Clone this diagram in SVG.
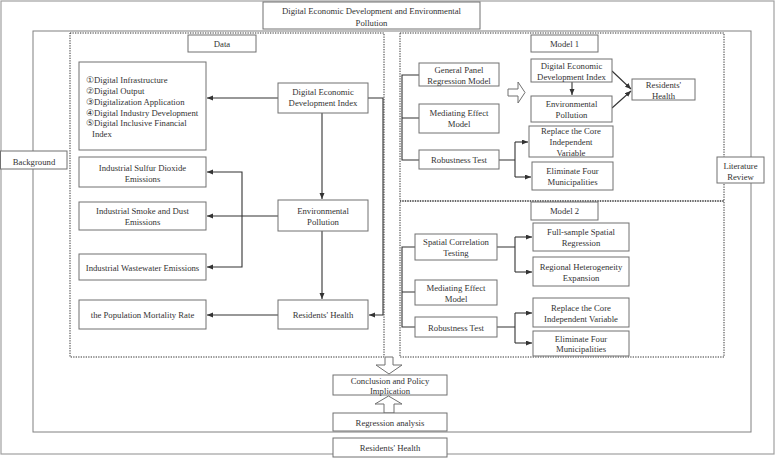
<svg xmlns="http://www.w3.org/2000/svg" width="777" height="458" viewBox="0 0 777 458">
<defs>
<marker id="ah" markerWidth="7" markerHeight="6" refX="6" refY="2.5" orient="auto" markerUnits="userSpaceOnUse">
<path d="M0,0 L6,2.5 L0,5 z" fill="#333"/>
</marker>
</defs>
<style>
text{font-family:"Liberation Serif","DejaVu Serif",serif;font-size:8.7px;fill:#333;text-anchor:middle}
.lt{text-anchor:start}
.box{fill:#fff;stroke:#707070;stroke-width:1}
.dot{fill:none;stroke:#333;stroke-width:1;stroke-dasharray:1.3 1.2}
.frame{fill:none;stroke:#808080;stroke-width:1}
.c{fill:none;stroke:#333;stroke-width:1.1}
.ca{fill:none;stroke:#333;stroke-width:1.1;marker-end:url(#ah)}
.hol{fill:#fff;stroke:#707070;stroke-width:1}
</style>
<rect width="777" height="458" fill="#fff"/>
<rect x="1" y="1" width="773" height="453" fill="none" stroke="#a0a0a0" stroke-width="1.2"/>
<rect class="frame" x="33" y="31" width="718" height="401"/>
<rect class="dot" x="70" y="33" width="314" height="324"/>
<rect class="dot" x="400" y="33" width="324" height="168"/>
<rect class="dot" x="400" y="201" width="324" height="156"/>

<g id="connectors">
<path class="ca" d="M278,98 H207"/>
<path class="ca" d="M368,98 H383 V315 H369"/>
<path class="ca" d="M322,113 V199"/>
<path class="ca" d="M278,216 H207"/>
<path class="ca" d="M242,216 V172 H207"/>
<path class="ca" d="M242,216 V267 H207"/>
<path class="ca" d="M322,231 V299"/>
<path class="ca" d="M278,315 H207"/>
<path class="c" d="M419,75 H402 V160 H419 M402,118 H419"/>
<path class="ca" d="M572,82 V95"/>
<path class="ca" d="M612,71 L631,89"/>
<path class="ca" d="M612,108 L631,91"/>
<path class="c" d="M499,160 H515 M515,142 V177"/>
<path class="ca" d="M515,142 H528"/>
<path class="ca" d="M515,177 H531"/>
<path class="c" d="M415,247 H402 V327 H415 M402,292 H415"/>
<path class="c" d="M497,247 H515 M515,237 V272"/>
<path class="ca" d="M515,237 H532"/>
<path class="ca" d="M515,272 H532"/>
<path class="c" d="M497,327 H515 M515,313 V343"/>
<path class="ca" d="M515,313 H532"/>
<path class="ca" d="M515,343 H532"/>
<path class="hol" d="M385,357 H393 V365 H402 L389,374 L376,365 H385 Z"/>
<path class="hol" d="M384,413 V404 H375 L388.5,396 L402,404 H394 V413 Z"/>
<path class="hol" d="M508,89 H518 V82 L525,92.5 L518,103 V96 H508 Z"/>
</g>

<g id="title"><rect class="box" x="263" y="2" width="217" height="27"/>
<text x="371.5" y="14">Digital Economic Development and Environmental</text><text x="371.5" y="25.5">Pollution</text></g>
<g id="background"><rect class="box" x="0.5" y="151" width="66.5" height="18"/><text x="34" y="165">Background</text></g>
<g id="literature"><rect class="box" x="717" y="157" width="47" height="26"/><text x="740.5" y="169">Literature</text><text x="740.5" y="180">Review</text></g>

<g id="data-label"><rect class="box" x="188" y="35" width="68" height="17"/><text x="222" y="47">Data</text></g>
<g id="indicators"><rect class="box" x="79" y="62" width="127" height="88"/>
<text class="lt" x="86" y="83.3">①Digital Infrastructure</text>
<text class="lt" x="86" y="94">②Digital Output</text>
<text class="lt" x="86" y="104.8">③Digitalization Application</text>
<text class="lt" x="86" y="115.6">④Digital Industry Development</text>
<text class="lt" x="86" y="126.4">⑤Digital Inclusive Financial</text>
<text class="lt" x="92" y="137.2">Index</text></g>
<g id="dedi"><rect class="box" x="278" y="83" width="90" height="30"/><text x="323" y="95">Digital Economic</text><text x="323" y="106">Development Index</text></g>
<g id="sulfur"><rect class="box" x="79" y="157" width="127" height="30"/><text x="142.5" y="171">Industrial Sulfur Dioxide</text><text x="142.5" y="182">Emissions</text></g>
<g id="smoke"><rect class="box" x="79" y="202" width="127" height="28"/><text x="142.5" y="214">Industrial Smoke and Dust</text><text x="142.5" y="225">Emissions</text></g>
<g id="envpol"><rect class="box" x="278" y="200" width="90" height="31"/><text x="323" y="214">Environmental</text><text x="323" y="225">Pollution</text></g>
<g id="wastewater"><rect class="box" x="79" y="254" width="127" height="26"/><text x="142.5" y="271">Industrial Wastewater Emissions</text></g>
<g id="mortality"><rect class="box" x="79" y="300" width="127" height="29"/><text x="142.5" y="318">the Population Mortality Rate</text></g>
<g id="health"><rect class="box" x="278" y="300" width="90" height="29"/><text x="323" y="318">Residents' Health</text></g>

<g id="model1-label"><rect class="box" x="531" y="35" width="67" height="17"/><text x="564.5" y="47">Model 1</text></g>
<g id="m1-panel"><rect class="box" x="419" y="63" width="80" height="23"/><text x="459" y="73">General Panel</text><text x="459" y="84">Regression Model</text></g>
<g id="m1-dedi"><rect class="box" x="531" y="59" width="81" height="23"/><text x="571.5" y="69">Digital Economic</text><text x="571.5" y="80">Development Index</text></g>
<g id="m1-env"><rect class="box" x="531" y="96" width="81" height="26"/><text x="571.5" y="107">Environmental</text><text x="571.5" y="118">Pollution</text></g>
<g id="m1-health"><rect class="box" x="632" y="79" width="63" height="21"/><text x="663.5" y="88">Residents'</text><text x="663.5" y="99">Health</text></g>
<g id="m1-mediating"><rect class="box" x="419" y="104" width="80" height="29"/><text x="459" y="116">Mediating Effect</text><text x="459" y="127">Model</text></g>
<g id="m1-robust"><rect class="box" x="419" y="150" width="80" height="19"/><text x="459" y="163">Robustness Test</text></g>
<g id="m1-replace"><rect class="box" x="529" y="126" width="84" height="31"/><text x="571" y="134">Replace the Core</text><text x="571" y="145">Independent</text><text x="571" y="156">Variable</text></g>
<g id="m1-eliminate"><rect class="box" x="532" y="162" width="81" height="28"/><text x="572.5" y="174">Eliminate Four</text><text x="572.5" y="185">Municipalities</text></g>

<g id="model2-label"><rect class="box" x="531" y="202" width="67" height="18"/><text x="564.5" y="214">Model 2</text></g>
<g id="m2-spatial"><rect class="box" x="415" y="234" width="82" height="26"/><text x="456" y="245">Spatial Correlation</text><text x="456" y="256">Testing</text></g>
<g id="m2-full"><rect class="box" x="533" y="223" width="96" height="28"/><text x="581" y="235">Full-sample Spatial</text><text x="581" y="246">Regression</text></g>
<g id="m2-regional"><rect class="box" x="533" y="257" width="96" height="29"/><text x="581" y="270">Regional Heterogeneity</text><text x="581" y="281">Expansion</text></g>
<g id="m2-mediating"><rect class="box" x="415" y="280" width="82" height="25"/><text x="456" y="291">Mediating Effect</text><text x="456" y="302">Model</text></g>
<g id="m2-robust"><rect class="box" x="415" y="317" width="82" height="20"/><text x="456" y="331">Robustness Test</text></g>
<g id="m2-replace"><rect class="box" x="533" y="298" width="96" height="29"/><text x="581" y="311">Replace the Core</text><text x="581" y="322">Independent Variable</text></g>
<g id="m2-eliminate"><rect class="box" x="533" y="331" width="96" height="25"/><text x="581" y="342">Eliminate Four</text><text x="581" y="352">Municipalities</text></g>

<g id="conclusion"><rect class="box" x="333" y="375" width="114" height="20"/><text x="390" y="383.5">Conclusion and Policy</text><text x="390" y="393.5">Implication</text></g>
<g id="regression"><rect class="box" x="333" y="413" width="114" height="18"/><text x="390" y="426">Regression analysis</text></g>
<g id="bottom-health"><rect class="box" x="333" y="438" width="114" height="19"/><text x="390" y="451">Residents' Health</text></g>
</svg>
